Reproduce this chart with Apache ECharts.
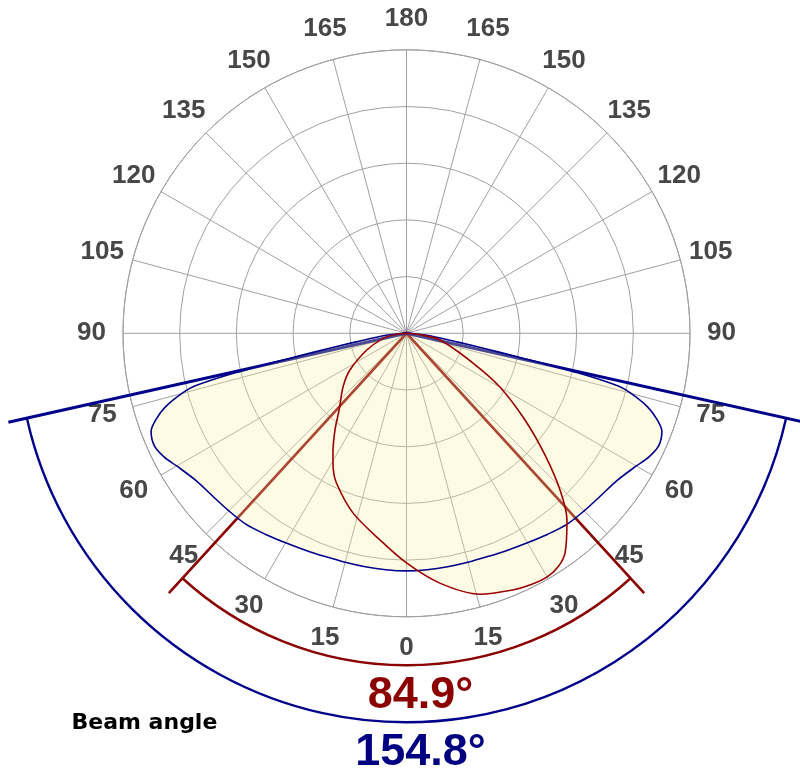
<!DOCTYPE html>
<html>
<head>
<meta charset="utf-8">
<script src="https://cdn.jsdelivr.net/npm/echarts@6/dist/echarts.min.js"></script>
<style>
html,body{margin:0;padding:0;background:#ffffff;}
#c{width:800px;height:776px;}
/* the fill layer (zlevel 1) is drawn opaque and made translucent as a whole, so overlapping fills merge */
#c canvas[data-zr-dom-id="zr_1"]{opacity:0.3;}
</style>
</head>
<body>
<div id="c"></div>
<script>
// ---- Data (relative intensity, % of axis max; gamma angle in degrees from nadir) ----
// Blue curve: symmetric plane
const blueGamma = [0, 5, 10, 15, 20, 25, 30, 35, 40, 45, 50, 55, 60, 63, 66, 69, 71, 73, 75, 76, 77, 78, 79, 80, 82, 85, 88, 90];
const blueValue = [83.8, 83.7, 83.6, 83.6, 83.8, 84.4, 85.3, 86.6, 88, 88.6, 89.3, 90.6, 93.6, 96, 97.4, 96.5, 93.5, 89, 82, 77, 62, 40, 28, 20, 12, 6, 2, 0];
// Red curve: asymmetric plane, left half (90 -> 0) and right half (0 -> 90)
const redLeftGamma = [90, 84, 77.8, 67.2, 57, 49.8, 41.3, 36.5, 31.6, 28.5, 25.1, 16.6, 7.3, 0];
const redLeftValue = [0, 4, 8.4, 15.2, 23.8, 29.3, 36, 42.4, 49.5, 54.2, 58.3, 66.1, 73.5, 81];
const redRightGamma = [0, 7.6, 15.7, 22.5, 26.1, 30, 33, 35.8, 40.7, 44.4, 48.7, 53.8, 60.1, 65.9, 78.7, 84, 90];
const redRightValue = [81, 88.9, 95.6, 98, 98.9, 99.2, 98.2, 95.6, 86.8, 77.4, 65, 51.8, 38, 25.7, 12.1, 5, 0];
// Beam angles (degrees)
const beamAngles = [84.9, 154.8];
const beamLabels = ['84.9°', '154.8°'];
const titleText = 'Beam angle';
// Angle axis ticks (axis value; label shows the gamma angle 0..180 on both sides)
const angleStep = 15;
const angleTicks = [0, 15, 30, 45, 60, 75, 90, 105, 120, 135, 150, 165, 180, 195, 210, 225, 240, 255, 270, 285, 300, 315, 330, 345];
const angleTickLabels = ['0', '15', '30', '45', '60', '75', '90', '105', '120', '135', '150', '165', '180', '165', '150', '135', '120', '105', '90', '75', '60', '45', '30', '15'];

// ---- Build series data in polar [radius, angle] (angle 0 = nadir, increasing to the left) ----
const blueData = [];
for (let i = blueGamma.length - 1; i >= 0; i--) blueData.push([blueValue[i], blueGamma[i]]);
for (let i = 1; i < blueGamma.length; i++) blueData.push([blueValue[i], 360 - blueGamma[i]]);
const redData = [];
for (let i = 0; i < redLeftGamma.length; i++) redData.push([redLeftValue[i], redLeftGamma[i]]);
for (let i = 1; i < redRightGamma.length; i++) redData.push([redRightValue[i], 360 - redRightGamma[i]]);

const RED = '#8b0000';
const BLUE = '#00008b';
const beamColors = [RED, BLUE];
const beamArcR = [117.1, 137.2];
const beamLineEnd = [124.2, 143.9];
const beamLineWidth = [2.6, 3];
const labelRadius = 111.1;
const fillStyle = { color: 'rgb(252,242,170)', opacity: 1 };

const chart = echarts.init(document.getElementById('c'), null, { renderer: 'canvas' });
chart.setOption({
  animation: false,
  backgroundColor: '#ffffff',
  polar: { center: [406.5, 333.3], radius: 283.5 },
  radiusAxis: {
    type: 'value', min: 0, max: 100, interval: 20,
    axisLine: { show: false }, axisTick: { show: false }, axisLabel: { show: false },
    splitLine: { show: true, lineStyle: { color: '#a0a0a0', width: 1 } }
  },
  angleAxis: {
    type: 'value', min: 0, max: 360, interval: angleStep,
    startAngle: 270, clockwise: true,
    axisLine: { show: true, lineStyle: { color: '#a0a0a0', width: 1 } },
    axisTick: { show: false },
    splitLine: { show: true, lineStyle: { color: '#a0a0a0', width: 1 } },
    axisLabel: { show: false }
  },
  series: [
    {
      // angle tick labels, centred on a circle just outside the grid
      type: 'custom', coordinateSystem: 'polar', z: 1, clip: false, silent: true,
      data: angleTicks.map(function (a) { return [labelRadius, a]; }),
      renderItem: function (params, api) {
        const p = api.coord([api.value(0), api.value(1)]);
        return {
          type: 'text',
          style: {
            x: p[0], y: p[1], text: angleTickLabels[params.dataIndex],
            align: 'center', verticalAlign: 'middle',
            font: 'bold 26px "Liberation Sans", Arial, sans-serif', fill: '#474747'
          }
        };
      }
    },
    {
      type: 'custom', coordinateSystem: 'polar', z: 1, clip: false, silent: true,
      data: beamAngles.map(function () { return [0, 0]; }),
      renderItem: function (params, api) {
        const i = params.dataIndex;
        const half = beamAngles[i] / 2;
        const c = api.coord([0, 0]);
        const pL = api.coord([beamLineEnd[i], half]);
        const pR = api.coord([beamLineEnd[i], 360 - half]);
        const pa = api.coord([beamArcR[i], 0]);
        const r = Math.hypot(pa[0] - c[0], pa[1] - c[1]);
        const h = half * Math.PI / 180;
        return {
          type: 'group',
          children: [
            { type: 'polyline', shape: { points: [pL, c, pR] },
              style: { stroke: beamColors[i], lineWidth: beamLineWidth[i], fill: null } },
            { type: 'arc', shape: { cx: c[0], cy: c[1], r: r, startAngle: Math.PI / 2 - h, endAngle: Math.PI / 2 + h, clockwise: true },
              style: { stroke: beamColors[i], lineWidth: 2.4, fill: null } }
          ]
        };
      }
    },
    { type: 'line', coordinateSystem: 'polar', zlevel: 1, z: 2, data: blueData, smooth: 0.3, symbol: 'none', silent: true,
      lineStyle: { width: 0, opacity: 0 }, areaStyle: fillStyle },
    { type: 'line', coordinateSystem: 'polar', zlevel: 1, z: 2, data: redData, smooth: 0.3, symbol: 'none', silent: true,
      lineStyle: { width: 0, opacity: 0 }, areaStyle: fillStyle },
    { type: 'line', coordinateSystem: 'polar', zlevel: 2, z: 3, data: blueData, smooth: 0.3, symbol: 'none', silent: true,
      lineStyle: { color: BLUE, width: 1.6 } },
    { type: 'line', coordinateSystem: 'polar', zlevel: 2, z: 3, data: redData, smooth: 0.3, symbol: 'none', silent: true,
      lineStyle: { color: '#990000', width: 1.6 } }
  ],
  graphic: [
    { type: 'text', silent: true, style: { x: 420.5, y: 695.5, text: beamLabels[0], textAlign: 'center', textVerticalAlign: 'middle',
      font: 'bold 45px "Liberation Sans", Arial, sans-serif', fill: RED } },
    { type: 'text', silent: true, style: { x: 420.5, y: 753, text: beamLabels[1], textAlign: 'center', textVerticalAlign: 'middle',
      font: 'bold 45px "Liberation Sans", Arial, sans-serif', fill: '#000080' } },
    { type: 'text', silent: true, style: { x: 71.5, y: 723.5, text: titleText, textAlign: 'left', textVerticalAlign: 'middle',
      font: 'bold 22px "DejaVu Sans", Verdana, sans-serif', fill: '#000000' } }
  ]
});
</script>
</body>
</html>
